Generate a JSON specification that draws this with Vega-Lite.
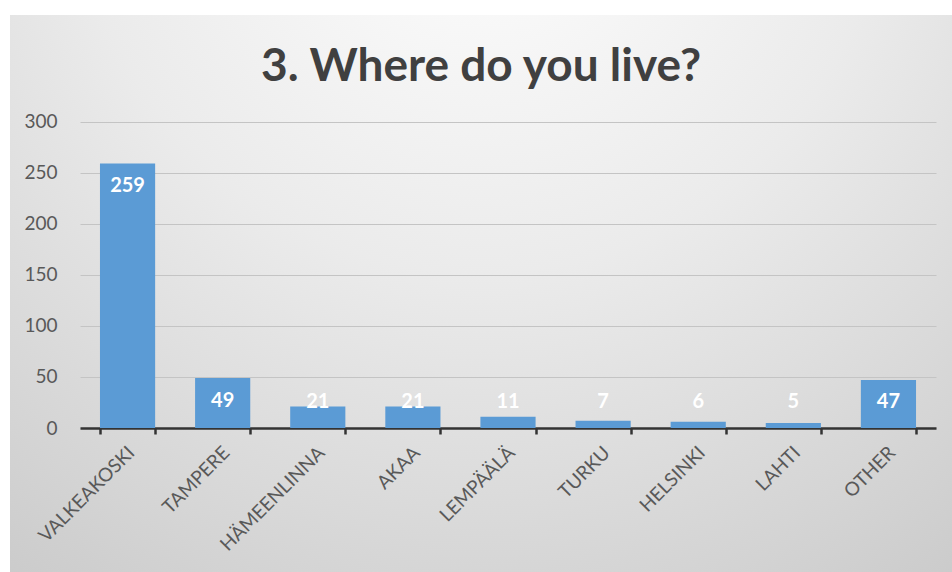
{
  "$schema": "https://vega.github.io/schema/vega-lite/v6.json",
  "width": 942,
  "height": 557,
  "autosize": "none",
  "padding": {"left": 10, "top": 15, "right": 0, "bottom": 0},
  "background": "#ffffff",
  "title": {
    "text": "3. Where do you live?",
    "font": "Lato",
    "fontSize": 46,
    "fontWeight": "bold",
    "color": "#404040",
    "anchor": "middle",
    "frame": "group",
    "offset": -76
  },
  "config": {
    "view": {
      "stroke": null,
      "fill": {
        "gradient": "radial",
        "x1": 0.5, "y1": 0.05, "r1": 0,
        "x2": 0.5, "y2": 0.05, "r2": 0.95,
        "stops": [
          {"offset": 0, "color": "#ffffff"},
          {"offset": 0.45, "color": "#ebebeb"},
          {"offset": 1, "color": "#c8c8c8"}
        ]
      }
    },
    "font": "Lato"
  },
  "data": {
    "values": [
      {"city": "VALKEAKOSKI", "count": 259},
      {"city": "TAMPERE", "count": 49},
      {"city": "HÄMEENLINNA", "count": 21},
      {"city": "AKAA", "count": 21},
      {"city": "LEMPÄÄLÄ", "count": 11},
      {"city": "TURKU", "count": 7},
      {"city": "HELSINKI", "count": 6},
      {"city": "LAHTI", "count": 5},
      {"city": "OTHER", "count": 47}
    ]
  },
  "transform": [{"calculate": "max(datum.count, 48)", "as": "labelPos"}],
  "encoding": {
    "x": {
      "field": "city",
      "type": "nominal",
      "sort": null,
      "scale": {"range": [70, 926], "paddingInner": 0.42, "paddingOuter": 0.21},
      "axis": {
        "title": null,
        "offset": -144,
        "labelAngle": -45,
        "labelFont": "Lato",
        "labelFontSize": 19,
        "labelColor": "#595959",
        "labelPadding": 9,
        "labelOffset": -3,
        "domainColor": "#333333",
        "domainWidth": 2.5,
        "tickColor": "#333333",
        "tickWidth": 2.5,
        "tickSize": 6,
        "tickBand": "extent",
        "grid": false
      }
    }
  },
  "layer": [
    {
      "mark": {"type": "bar", "color": "#5B9BD5"},
      "encoding": {
        "y": {
          "field": "count",
          "type": "quantitative",
          "scale": {"domain": [0, 300], "range": [413, 106.5], "nice": false},
          "axis": {
            "title": null,
            "offset": -47,
            "values": [0, 50, 100, 150, 200, 250, 300],
            "domain": false,
            "ticks": false,
            "tickSize": 0,
            "labelPadding": 0,
            "labelFont": "Lato",
            "labelFontSize": 19,
            "labelColor": "#595959",
            "gridColor": "#c4c4c4",
            "gridWidth": 1
          }
        }
      }
    },
    {
      "mark": {"type": "text", "color": "#ffffff", "fontWeight": "bold", "fontSize": 20, "font": "Lato", "dy": 23, "baseline": "middle"},
      "encoding": {
        "y": {"field": "labelPos", "type": "quantitative"},
        "text": {"field": "count", "type": "quantitative"}
      }
    }
  ]
}
